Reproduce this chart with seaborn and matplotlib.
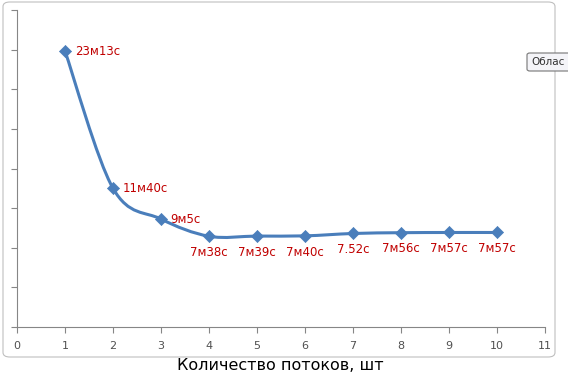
import numpy as np
import pandas as pd
import matplotlib
matplotlib.use("Agg")
import matplotlib.pyplot as plt
import seaborn as sns
from matplotlib.path import Path
from matplotlib.patches import PathPatch, FancyBboxPatch

threads = [1, 2, 3, 4, 5, 6, 7, 8, 9, 10]
seconds = [1393, 700, 545, 458, 459, 460, 472, 476, 477, 477]
labels = ["23м13с", "11м40с", "9м5с", "7м38с", "7м39с", "7м40с", "7.52с", "7м56с", "7м57с", "7м57с"]
x_ticks = list(range(0, 12))
x_title = "Количество потоков, шт"

sns.set_theme(style="white")
plt.rcParams['font.family'] = ['DejaVu Sans']

df = pd.DataFrame({"threads": threads, "seconds": seconds})

fig = plt.figure(figsize=(5.68, 3.80), dpi=100)
ax = fig.add_axes([17/568, 1-327/380, (545-17)/568, (327-10)/380])

blue = "#4A7EBB"
red = "#C00000"

# smoothed line (Excel-style cubic Bezier through the points)
P = np.column_stack([threads, seconds]).astype(float)
n = len(P)
verts = [tuple(P[0])]
codes = [Path.MOVETO]
for i in range(n - 1):
    p0 = P[i - 1] if i > 0 else P[i]
    p1 = P[i]
    p2 = P[i + 1]
    p3 = P[i + 2] if i + 2 < n else P[i + 1]
    c1 = p1 + (p2 - p0) / 6.0
    c2 = p2 - (p3 - p1) / 6.0
    verts += [tuple(c1), tuple(c2), tuple(p2)]
    codes += [Path.CURVE4] * 3
ax.add_patch(PathPatch(Path(verts, codes), facecolor="none", edgecolor=blue,
                       lw=2.2, capstyle="round", joinstyle="round", zorder=2))

sns.scatterplot(data=df, x="threads", y="seconds", marker="D", s=38,
                color=blue, edgecolor=blue, linewidth=0.5, ax=ax, zorder=3, legend=False)

for i, (xv, yv, lab) in enumerate(zip(threads, seconds, labels)):
    if i < 3:
        ax.annotate(lab, (xv, yv), xytext=(7, 0), textcoords="offset points",
                    ha="left", va="center", color=red, fontsize=8.5)
    else:
        ax.annotate(lab, (xv, yv), xytext=(0, -7), textcoords="offset points",
                    ha="center", va="top", color=red, fontsize=8.5)

ax.set_xlim(0, 11)
ax.set_ylim(0, 1600)
ax.set_xticks(x_ticks)
ax.set_yticks(np.arange(0, 1601, 200))
ax.set_yticklabels([])
ax.set_xlabel("")
ax.set_ylabel("")
for s in ["top", "right"]:
    ax.spines[s].set_visible(False)
for s in ["left", "bottom"]:
    ax.spines[s].set_color("#868686")
    ax.spines[s].set_linewidth(0.8)
ax.tick_params(axis="both", direction="out", length=4, width=0.8, color="#868686",
               labelsize=8, labelcolor="#505050", left=True, bottom=True)
ax.tick_params(axis="x", pad=6)
ax.set_facecolor("none")

fig.text(280/568, 1-366/380, x_title, ha="center", va="center", fontsize=11.5, color="black")

# chart area border
border = FancyBboxPatch((3/568, 1-357/380), (555-3)/568, (357-2)/380,
                        boxstyle="round,pad=0,rounding_size=0.012",
                        transform=fig.transFigure, facecolor="none",
                        edgecolor="#BFBFBF", lw=0.8, zorder=0)
fig.patches.append(border)

# tooltip (cut off at the right edge as in the reference)
tip = FancyBboxPatch((527/568, 1-71/380), 60/568, 18/380,
                     boxstyle="round,pad=0,rounding_size=0.005",
                     transform=fig.transFigure, facecolor="#F4F4F8",
                     edgecolor="#767676", lw=0.8, zorder=5)
fig.patches.append(tip)
fig.text(531/568, 1-62/380, "Облас", ha="left", va="center",
         fontsize=7.5, color="#333333", zorder=6)

fig.savefig("out.png", dpi=100)
